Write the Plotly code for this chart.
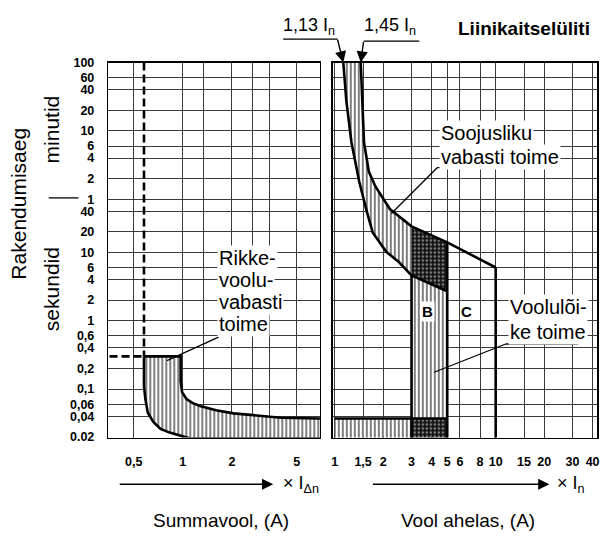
import numpy as np
import plotly.graph_objects as go

W, H = 611, 539
def px(x): return x / W
def py(y): return 1 - y / H

# ---------------- axis ticks ----------------
time_ticks_s = [6000, 3600, 2400, 1200, 600, 360, 240, 120, 60,
                40, 20, 10, 6, 4, 2, 1, 0.6, 0.4, 0.2, 0.1, 0.06, 0.04, 0.02]
time_tick_text = ["100", "60", "40", "20", "10", "6", "4", "2", "1",
                  "40", "20", "10", "6", "4", "2", "1", "0,6", "0,4", "0,2", "0,1", "0,06", "0,04", "0.02"]
rcd_ticks = [0.5, 1, 2, 5]
rcd_tick_text = ["0,5", "1", "2", "5"]
rcd_extra_grid = [1.34, 2.67, 3.38]
mcb_ticks = [1, 1.5, 2, 3, 4, 5, 6, 8, 10, 15, 20, 30, 40]
mcb_tick_text = ["1", "1,5", "2", "3", "4", "5", "6", "8", "10", "15", "20", "30", "40"]

# ---------------- RCD (rikkevoolukaitse) ----------------
rcd_min_trip = 0.578          # x I_dn
rcd_max_time = 0.3            # s
rcd_upper_x = [0.578, 0.97, 0.97, 0.99, 1.05, 1.15, 1.29, 1.6, 2.05, 3.0, 4.0, 7.0]
rcd_upper_t = [0.3, 0.3, 0.13, 0.09, 0.072, 0.062, 0.056, 0.049, 0.044, 0.040, 0.038, 0.037]
rcd_lower_x = [0.578, 0.578, 0.59, 0.61, 0.66, 0.73, 0.83, 0.97, 1.1, 7.0]
rcd_lower_t = [0.3, 0.108, 0.07, 0.045, 0.033, 0.026, 0.023, 0.0205, 0.019, 0.019]

# ---------------- MCB (liinikaitselüliti) ----------------
therm_lo_x = [1.13, 1.18, 1.27, 1.42, 1.58, 1.72, 2.09, 2.52, 3.0, 5.0]
therm_lo_t = [6000, 1660, 405, 108, 40, 19.6, 10.2, 7.1, 4.6, 2.7]
therm_hi_x = [1.45, 1.48, 1.52, 1.63, 1.79, 2.2, 3.0, 5.0, 10.0]
therm_hi_t = [6000, 1660, 405, 151, 92, 43, 24, 14, 6.0]
b_lo, b_hi, c_hi = 3.0, 5.0, 10.0
strip_x0 = 1.0
strip_top = 0.037
t_bottom = 0.019
t_top = time_ticks_s[0]

lo_x = np.array(therm_lo_x); lo_t = np.array(therm_lo_t)
hi_x = np.array(therm_hi_x); hi_t = np.array(therm_hi_t)

GRID = "#3a3a3a"
HATCH = dict(shape="|", size=4, solidity=0.5, fgcolor="black", bgcolor="white")
DOTS = dict(shape=".", size=4, solidity=0.3, fgcolor="white", bgcolor="#111111")
FONT = "Liberation Sans, Arial, sans-serif"

fig = go.Figure()

def fill(x, y, pat, xa="x", ya="y"):
    fig.add_trace(go.Scatter(x=list(x), y=list(y), fill="toself", mode="lines",
                             line=dict(width=0, color="rgba(0,0,0,0)"), fillcolor="white",
                             fillpattern=pat, hoverinfo="skip", showlegend=False,
                             xaxis=xa, yaxis=ya))

def line(x, y, w=2.6, dash="solid", xa="x", ya="y"):
    fig.add_trace(go.Scatter(x=list(x), y=list(y), mode="lines",
                             line=dict(width=w, color="black", dash=dash),
                             hoverinfo="skip", showlegend=False, xaxis=xa, yaxis=ya))

# ----- left panel -----
fill(rcd_upper_x + rcd_lower_x[::-1], rcd_upper_t + rcd_lower_t[::-1], HATCH)
line(rcd_upper_x, rcd_upper_t)
line(rcd_lower_x, rcd_lower_t)
line([rcd_min_trip, rcd_min_trip], [t_top, rcd_max_time], w=2.6, dash="8px,4px")
line([0.3, rcd_min_trip], [rcd_max_time, rcd_max_time], w=2.6, dash="8px,4px")

# ----- right panel -----
m = lo_x <= b_lo; n = hi_x <= b_lo
fill(np.r_[lo_x[m], hi_x[n][::-1]], np.r_[lo_t[m], hi_t[n][::-1]], HATCH, "x2", "y2")
m = (lo_x >= b_lo) & (lo_x <= b_hi); n = (hi_x >= b_lo) & (hi_x <= b_hi)
fill(np.r_[lo_x[m], hi_x[n][::-1]], np.r_[lo_t[m], hi_t[n][::-1]], DOTS, "x2", "y2")
fill(np.r_[[b_lo, b_hi], lo_x[m][::-1]], np.r_[[strip_top, strip_top], lo_t[m][::-1]], HATCH, "x2", "y2")
fill([strip_x0, b_lo, b_lo, strip_x0], [t_bottom, t_bottom, strip_top, strip_top], HATCH, "x2", "y2")
fill([b_lo, b_hi, b_hi, b_lo], [t_bottom, t_bottom, strip_top, strip_top], DOTS, "x2", "y2")

line(lo_x, lo_t, xa="x2", ya="y2")
line(hi_x, hi_t, xa="x2", ya="y2")
line([b_lo, b_lo], [lo_t[lo_x == b_lo][0], t_bottom], xa="x2", ya="y2")
line([b_hi, b_hi], [hi_t[hi_x == b_hi][0], t_bottom], xa="x2", ya="y2")
line([c_hi, c_hi], [hi_t[hi_x == c_hi][0], t_bottom], xa="x2", ya="y2")
line([strip_x0, b_hi], [strip_top, strip_top], xa="x2", ya="y2")

tickfont = dict(family=FONT, size=12.5, color="black", weight="bold")
common = dict(type="log", showline=True, mirror=True, linecolor="black", linewidth=1.5,
              showgrid=True, gridcolor=GRID, gridwidth=1, ticks="", zeroline=False,
              tickfont=tickfont)
fig.update_layout(
    width=W, height=H, margin=dict(l=0, r=0, t=0, b=0),
    paper_bgcolor="white", plot_bgcolor="white", showlegend=False,
    xaxis=dict(domain=[px(107), px(320)], range=[-0.457, 0.841], anchor="y",
               tickvals=rcd_ticks, ticktext=rcd_tick_text, ticklabelstandoff=12,
               minor=dict(tickvals=rcd_extra_grid, showgrid=True, gridcolor=GRID, gridwidth=1, ticks=""),
               **common),
    yaxis=dict(domain=[py(442), py(57)], range=[np.log10(0.0195), np.log10(6000)], anchor="x",
               tickvals=time_ticks_s, ticktext=time_tick_text, ticklabelstandoff=10, **common),
    xaxis2=dict(domain=[px(333), px(599)], range=[-0.012, 1.63], anchor="y2",
                tickvals=mcb_ticks, ticktext=mcb_tick_text, ticklabelstandoff=12, **common),
    yaxis2=dict(domain=[py(442), py(57)], range=[np.log10(0.0195), np.log10(6000)], anchor="x2",
                tickvals=time_ticks_s, showticklabels=False, **common),
)

ann = []
def txt(x, y, s, size=20, bold=False, angle=0, xanchor="center", bg=None):
    d = dict(x=px(x), y=py(y), xref="paper", yref="paper", text=s, showarrow=False,
             textangle=angle, xanchor=xanchor, yanchor="middle", align="left",
             font=dict(family=FONT, size=size, color="black", weight="bold" if bold else "normal"))
    if bg:
        d.update(bgcolor=bg, borderpad=1)
    ann.append(d)

# axis titles
txt(17, 202, "Rakendumisaeg", size=21, angle=-90)
txt(50, 126, "minutid", size=21, angle=-90)
txt(50, 290, "sekundid", size=21, angle=-90)
txt(220, 527, "Summavool, (A)", size=19)
txt(469, 527, "Vool ahelas, (A)", size=19)
txt(281, 490, "× I<sub>Δn</sub>", size=18, xanchor="left")
txt(557, 490, "× I<sub>n</sub>", size=18, xanchor="left")

# top
txt(309, 20, "1,13 I<sub>n</sub>", size=18)
txt(391, 20, "1,45 I<sub>n</sub>", size=18)
txt(525, 22, "Liinikaitselüliti", size=19, bold=True)

# region labels
for i, s in enumerate(["Rikke-", "voolu-", "vabasti", "toime"]):
    txt(216, 258 + i * 22.4, s, size=20, xanchor="left", bg="white")
for i, s in enumerate(["Soojusliku", "vabasti toime"]):
    txt(440, 129 + i * 25, s, size=20, xanchor="left", bg="white")
for i, s in enumerate(["Voolulõi-", "ke toime"]):
    txt(509, 308 + i * 26, s, size=20, xanchor="left", bg="white")
txt(428, 313, "B", size=15, bold=True, bg="white")
txt(468, 313, "C", size=15, bold=True)

# arrows
arrow = dict(showarrow=True, arrowhead=2, arrowsize=1.6, arrowwidth=1.4, arrowcolor="black", text="")
ann.append(dict(x=np.log10(1.13), y=np.log10(6000), xref="x2", yref="y2", ax=-6, ay=-24, **arrow))
ann.append(dict(x=np.log10(1.45), y=np.log10(6000), xref="x2", yref="y2", ax=3, ay=-22, **arrow))
ann.append(dict(x=px(273), y=py(490), xref="paper", yref="paper", ax=-155, ay=0, **arrow))
ann.append(dict(x=px(551), y=py(490), xref="paper", yref="paper", ax=-178, ay=0, **arrow))
fig.update_layout(annotations=ann)

shapes = []
def seg(x0, y0, x1, y1, w=1.3):
    shapes.append(dict(type="line", xref="paper", yref="paper", x0=px(x0), y0=py(y0),
                       x1=px(x1), y1=py(y1), line=dict(color="black", width=w)))
seg(47, 196, 77, 196)
seg(283, 33, 338, 33)
seg(364, 35, 420, 35)
seg(218, 339, 166, 363)
seg(438, 165, 533, 165)
seg(438, 165, 392, 212)
seg(507, 346, 580, 346)
seg(507, 346, 435, 375)
fig.update_layout(shapes=shapes)

fig.write_html("out.html", config={"displayModeBar": False, "staticPlot": True})
with open("out.html", encoding="utf-8") as f:
    html = f.read()
html = html.replace("<body>", '<body style="margin:0;overflow:hidden">', 1)
with open("out.html", "w", encoding="utf-8") as f:
    f.write(html)
